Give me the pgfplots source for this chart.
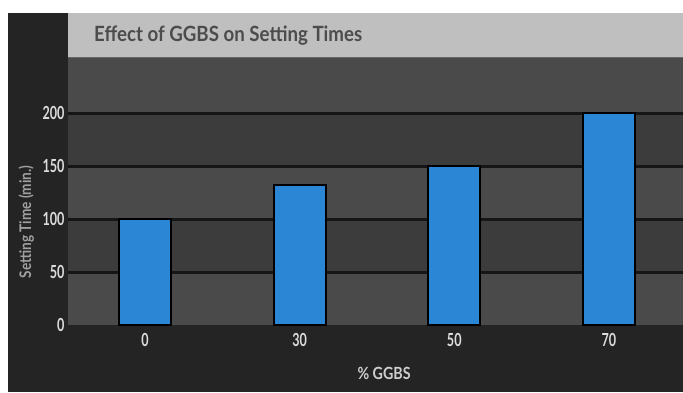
\documentclass[border=0pt]{standalone}
\usepackage{fontspec}
\setmainfont{Lato}
\newfontfamily\titlefont[FakeStretch=0.89]{Lato}
\newfontfamily\labfont[FakeStretch=0.85]{Lato}
\newfontfamily\tickfont[FakeStretch=0.70]{Lato}
\usepackage{pgfplots}
\pgfplotsset{compat=1.18}
\definecolor{bgdark}{HTML}{242424}
\definecolor{titlebar}{HTML}{BFBFBF}
\definecolor{titletext}{HTML}{4C4C4C}
\definecolor{bandlight}{HTML}{4A4A4A}
\definecolor{banddark}{HTML}{3C3C3C}
\definecolor{barblue}{HTML}{2B86D6}
\definecolor{ticklab}{HTML}{DCDCDC}
\definecolor{ylab}{HTML}{A0A0A0}
\definecolor{xlab}{HTML}{CFCFCF}
\definecolor{gridc}{HTML}{161616}
\begin{document}
\begin{tikzpicture}
\useasboundingbox (0,0) rectangle (683pt,392pt);
\fill[white] (0,0) rectangle (683pt,392pt);
\fill[bgdark] (8pt,0) rectangle (683pt,379pt);
\fill[titlebar] (68pt,334pt) rectangle (683pt,379pt);
\fill[black!60] (68pt,333pt) rectangle (683pt,335pt);
\node[anchor=west, text=titletext, inner sep=0pt, font=\titlefont\bfseries\fontsize{21}{25}\selectfont] at (94pt,356pt) {Effect of GGBS on Setting Times};
\begin{axis}[
  at={(68pt,67pt)}, anchor=south west,
  scale only axis, width=615pt, height=267pt,
  xmin=-0.498, xmax=3.479, ymin=0, ymax=252,
  clip=false,
  axis line style={draw=none},
  major tick length=0pt,
  axis background/.style={fill=bandlight},
  xtick={0,1,2,3}, xticklabels={0,30,50,70},
  ytick={0,50,100,150,200},
  /pgf/number format/assume math mode=true,
  tick label style={font=\tickfont\bfseries\fontsize{18}{20}\selectfont, text=ticklab},
  xticklabel style={yshift=-5pt},
  ylabel={Setting Time (min.)},
  ylabel style={at={(axis description cs:-0.068,0.386)}, anchor=center, font=\labfont\bfseries\fontsize{16}{18}\selectfont, text=ylab},
  xlabel={\% GGBS},
  xlabel style={at={(axis description cs:0.514,-0.18)}, anchor=center, font=\labfont\bfseries\fontsize{16.8}{18}\selectfont, text=xlab},
]
\fill[banddark] (axis cs:-0.498,50) rectangle (axis cs:3.479,100);
\fill[banddark] (axis cs:-0.498,150) rectangle (axis cs:3.479,200);
\draw[gridc, line width=3pt] (axis cs:-0.498,50) -- (axis cs:3.479,50);
\draw[gridc, line width=3pt] (axis cs:-0.498,100) -- (axis cs:3.479,100);
\draw[gridc, line width=3pt] (axis cs:-0.498,150) -- (axis cs:3.479,150);
\draw[gridc, line width=3pt] (axis cs:-0.498,200) -- (axis cs:3.479,200);
\addplot[ybar, bar width=52pt, fill=barblue, draw=black, line width=2pt] coordinates {(0,100) (1,132) (2,150) (3,200)};
\end{axis}
\end{tikzpicture}
\end{document}
